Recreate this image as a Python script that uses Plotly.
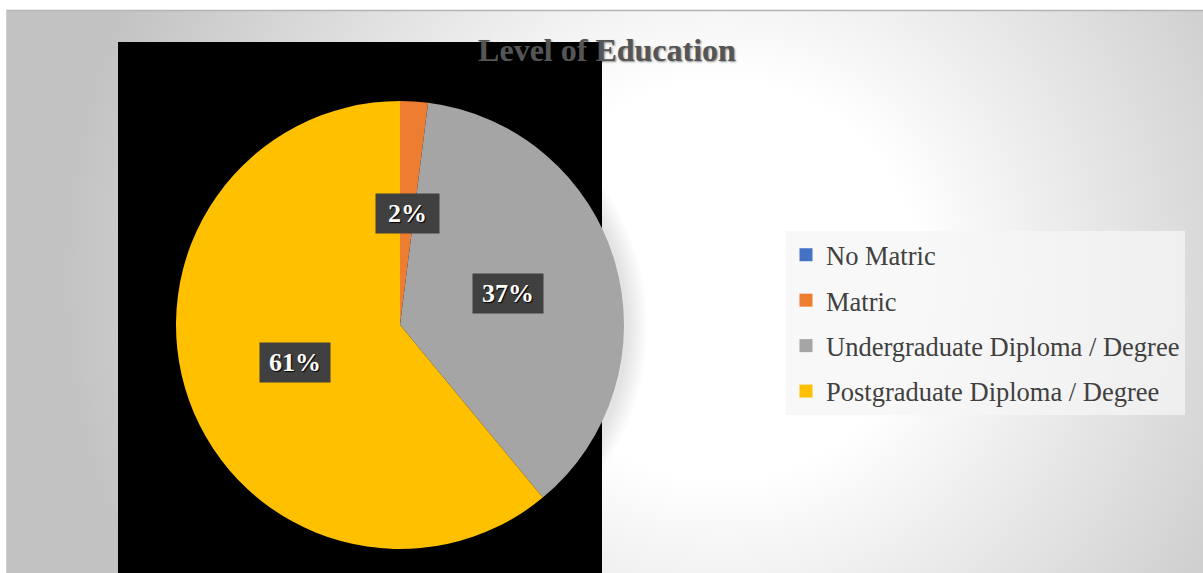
import base64
import math
import plotly.graph_objects as go

# Survey responses: highest level of education (percent of respondents)
categories = ["No Matric", "Matric", "Undergraduate Diploma / Degree", "Postgraduate Diploma / Degree"]
shares = [0, 2, 37, 61]
colors = ["#4472C4", "#ED7D31", "#A5A5A5", "#FFC000"]
title_text = "Level of Education"

W, H = 1203, 573

# Pie placement in pixels (centre and radius)
PIE_CX, PIE_CY, PIE_R = 400, 325, 224

# Soft radial backdrop for the chart area, with a thin frame on the top/left edge
svg = f"""<svg xmlns='http://www.w3.org/2000/svg' width='{W}' height='{H}' viewBox='0 0 {W} {H}'>
<defs><radialGradient id='g' gradientUnits='userSpaceOnUse' cx='720' cy='280' r='660'>
<stop offset='0' stop-color='#ffffff'/><stop offset='0.3' stop-color='#ffffff'/>
<stop offset='1' stop-color='#c2c2c2'/></radialGradient></defs>
<rect x='0' y='0' width='{W}' height='{H}' fill='#ffffff'/>
<rect x='6' y='10' width='{W}' height='{H}' fill='url(#g)'/>
<line x1='6' y1='10.5' x2='{W}' y2='10.5' stroke='#b4b4b4' stroke-width='1.5'/>
<line x1='6.5' y1='10' x2='6.5' y2='{H}' stroke='#d0d0d0' stroke-width='1'/>
</svg>"""
bg_uri = "data:image/svg+xml;base64," + base64.b64encode(svg.encode()).decode()

fig = go.Figure()

fig.add_trace(go.Pie(
    labels=categories,
    values=shares,
    marker=dict(colors=colors, line=dict(width=0)),
    sort=False,
    direction="clockwise",
    rotation=0,
    textinfo="none",
    hoverinfo="label+percent",
    showlegend=False,
    domain=dict(
        x=[(PIE_CX - PIE_R) / W, (PIE_CX + PIE_R) / W],
        y=[1 - (PIE_CY + PIE_R) / H, 1 - (PIE_CY - PIE_R) / H],
    ),
))

# Legend entries (square swatches), one group each so spacing can be set
for name, col in zip(categories, colors):
    fig.add_trace(go.Scatter(
        x=[None], y=[None], mode="markers", name=name, legendgroup=name,
        marker=dict(symbol="square", size=13, color=col),
    ))

# Percentage labels in dark boxes at half radius, mid-angle of each slice
annotations = []
total = sum(shares)
cum = 0.0
for v in shares:
    start = cum
    cum += v
    if v == 0:
        continue
    mid = (start + cum) / 2 / total * 2 * math.pi
    px = PIE_CX + 0.5 * PIE_R * math.sin(mid)
    py = PIE_CY - 0.5 * PIE_R * math.cos(mid)
    label = f"{v}%"
    annotations.append(dict(
        x=px / W, y=1 - py / H, xref="paper", yref="paper",
        text=f"<b>{label}</b>", showarrow=False,
        font=dict(family="Liberation Serif", size=26, color="#ffffff",
                  shadow="1px 1px 1px #000000"),
        bgcolor="#404040", borderpad=4,
        width=41 + 7 * len(label), height=31,
        xanchor="center", yanchor="middle",
    ))

# Black panel behind the pie, plus a faint shadow halo around it
shapes = [dict(type="rect", xref="paper", yref="paper",
               x0=118 / W, x1=602 / W, y0=0, y1=1 - 42 / H,
               fillcolor="#000000", line=dict(width=0), layer="below")]
for k in range(1, 8):
    rr = PIE_R + 3 * k
    shapes.append(dict(
        type="circle", xref="paper", yref="paper",
        x0=(PIE_CX + 2 - rr) / W, x1=(PIE_CX + 2 + rr) / W,
        y0=1 - (PIE_CY + 2 + rr) / H, y1=1 - (PIE_CY + 2 - rr) / H,
        fillcolor="rgba(0,0,0,0.014)", line=dict(width=0), layer="below",
    ))

fig.update_layout(
    width=W, height=H,
    margin=dict(l=0, r=0, t=0, b=0),
    paper_bgcolor="#ffffff",
    plot_bgcolor="rgba(0,0,0,0)",
    images=[dict(source=bg_uri, xref="paper", yref="paper", x=0, y=1,
                 sizex=1, sizey=1, sizing="stretch", layer="below",
                 xanchor="left", yanchor="top")],
    shapes=shapes,
    annotations=annotations,
    title=dict(
        text=f"<b>{title_text}</b>",
        x=607 / W, y=1 - 50 / H, xanchor="center", yanchor="middle",
        font=dict(family="Liberation Serif", size=32, color="#555555",
                  shadow="1px 1px 2px rgba(0,0,0,0.45)"),
    ),
    xaxis=dict(visible=False),
    yaxis=dict(visible=False),
    showlegend=True,
    legend=dict(
        x=786 / W, y=1 - 231 / H, xanchor="left", yanchor="top",
        bgcolor="rgba(245,245,245,0.75)",
        font=dict(family="Liberation Serif", size=26.5, color="#404040"),
        tracegroupgap=8,
        itemclick=False, itemdoubleclick=False,
    ),
)

fig.write_html("out.html")
